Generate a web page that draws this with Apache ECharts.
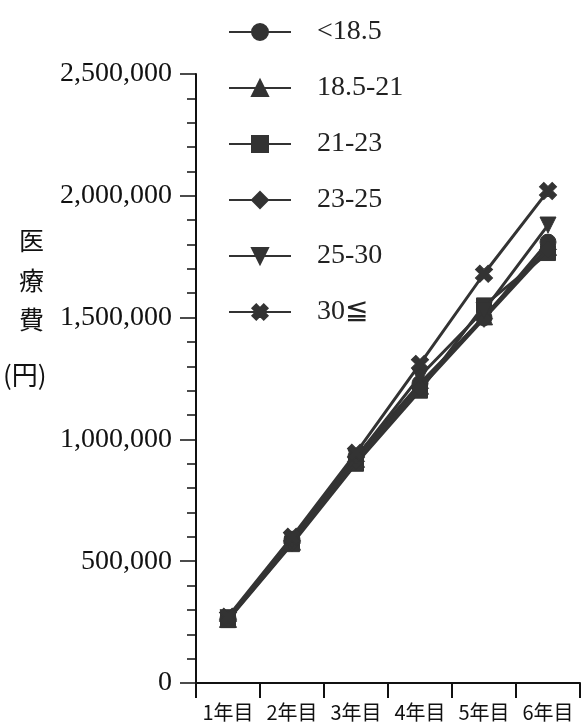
<!DOCTYPE html>
<html>
<head>
<meta charset="utf-8">
<script src="https://cdn.jsdelivr.net/npm/echarts@6/dist/echarts.min.js"></script>
<style>
html,body{margin:0;padding:0;background:#fff;}
#chart{width:581px;height:727px;}
</style>
</head>
<body>
<div id="chart"></div>
<script>
var categories = ['1年目','2年目','3年目','4年目','5年目','6年目'];
var seriesNames = ['<18.5','18.5-21','21-23','23-25','25-30','30≦'];
var bmiUnder185 = [265000, 590000, 930000, 1230000, 1500000, 1810000];
var bmi185to21 = [263000, 580000, 920000, 1220000, 1505000, 1790000];
var bmi21to23 = [258000, 570000, 900000, 1200000, 1550000, 1765000];
var bmi23to25 = [262000, 575000, 910000, 1210000, 1495000, 1780000];
var bmi25to30 = [268000, 585000, 925000, 1260000, 1530000, 1880000];
var bmi30over = [272000, 600000, 945000, 1310000, 1680000, 2020000];
var yTicks = [0, 500000, 1000000, 1500000, 2000000, 2500000];

var seriesData = [bmiUnder185, bmi185to21, bmi21to23, bmi23to25, bmi25to30, bmi30over];
var crossPath = 'path://M-1.1,-3.2 L1.1,-3.2 L1.1,-1.1 L3.2,-1.1 L3.2,1.1 L1.1,1.1 L1.1,3.2 L-1.1,3.2 L-1.1,1.1 L-3.2,1.1 L-3.2,-1.1 L-1.1,-1.1 Z';
var symbols = ['circle','triangle','rect','diamond','triangle', crossPath];
var rotates = [0, 0, 0, 0, 180, 45];
var sizes = [16, 17, 15, 17, 16, 18];

function fmt(v){
  return String(v).replace(/\B(?=(\d{3})+(?!\d))/g, ',');
}

var chart = echarts.init(document.getElementById('chart'), null, {renderer:'canvas'});
var ink = '#333';
var option = {
  backgroundColor: '#fff',
  animation: false,
  grid: {left: 196, right: 1, top: 74, bottom: 44, containLabel: false},
  legend: {
    orient: 'vertical',
    left: 223,
    top: 12,
    itemWidth: 62,
    itemHeight: 20,
    itemGap: 26,
    textStyle: {fontFamily: 'Liberation Serif', fontSize: 28, color: '#222', lineHeight: 30, padding: [0,0,0,21]},
    data: seriesNames
  },
  xAxis: {
    type: 'category',
    data: categories,
    boundaryGap: true,
    axisLine: {lineStyle: {color: '#111', width: 2}},
    axisTick: {show: true, interval: 0, length: 15, lineStyle: {color: '#111', width: 2}},
    axisLabel: {interval: 0, hideOverlap: false, fontFamily: 'Noto Sans CJK JP', fontSize: 20, color: '#111', margin: 19}
  },
  yAxis: {
    type: 'value',
    min: yTicks[0],
    max: yTicks[yTicks.length-1],
    interval: yTicks[1]-yTicks[0],
    axisLine: {show: true, lineStyle: {color: '#111', width: 2}},
    axisTick: {show: true, length: 16, lineStyle: {color: '#111', width: 1.5}},
    minorTick: {show: true, splitNumber: 5, length: 9, lineStyle: {color: '#111', width: 1.5}},
    splitLine: {show: false},
    axisLabel: {fontFamily: 'Liberation Serif', fontSize: 28, color: '#111', margin: 24, formatter: fmt}
  },
  graphic: [
    {type:'text', left: 19, top: 228, style:{text:'医', font:'25px "Noto Sans CJK JP"', fill:'#111'}},
    {type:'text', left: 19, top: 268, style:{text:'療', font:'25px "Noto Sans CJK JP"', fill:'#111'}},
    {type:'text', left: 19, top: 307, style:{text:'費', font:'25px "Noto Sans CJK JP"', fill:'#111'}},
    {type:'text', left: 3, top: 362, style:{text:'(円)', font:'26px "Noto Sans CJK JP"', fill:'#111'}}
  ],
  series: seriesNames.map(function(name, i){
    return {
      name: name,
      type: 'line',
      data: seriesData[i],
      symbol: symbols[i],
      symbolSize: sizes[i],
      symbolRotate: rotates[i],
      showAllSymbol: true,
      lineStyle: {color: ink, width: 3},
      itemStyle: {color: ink, borderColor: ink, borderWidth: 1},
      z: 2 + i
    };
  })
};
chart.setOption(option);
</script>
</body>
</html>
